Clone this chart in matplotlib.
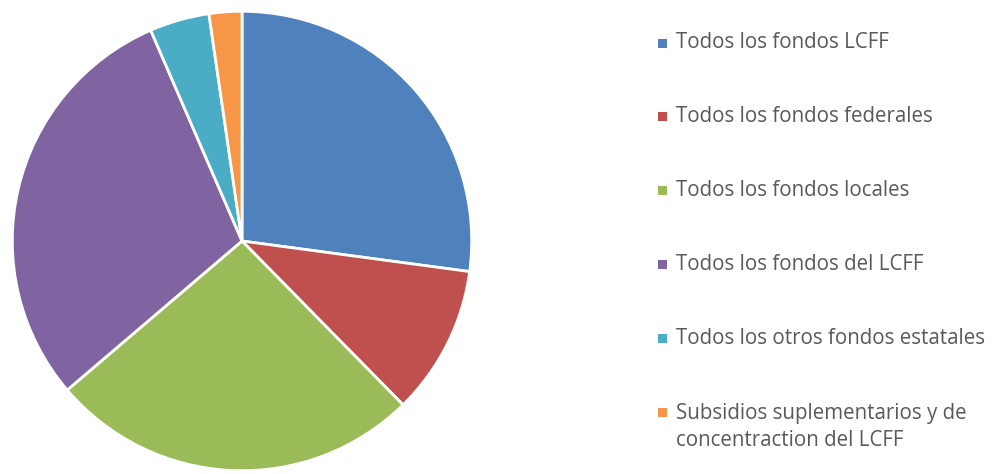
import matplotlib
matplotlib.use("Agg")
import matplotlib.pyplot as plt
from matplotlib.patches import Rectangle

labels = ["Todos los fondos LCFF", "Todos los fondos federales", "Todos los fondos locales",
          "Todos los fondos del LCFF", "Todos los otros fondos estatales",
          "Subsidios suplementarios y de\nconcentraction del LCFF"]
values = [27.1, 10.5, 26.1, 29.7, 4.2, 2.3]
colors = ["#4F81BD", "#C0504D", "#9BBB59", "#8064A2", "#4BACC6", "#F79646"]

W, H = 995, 474
fig = plt.figure(figsize=(W / 100, H / 100), dpi=100)
cx, cy, r = 242, 241, 232
ax = fig.add_axes([(cx - r) / W, (H - cy - r) / H, 2 * r / W, 2 * r / H])
ax.pie(values, colors=colors, startangle=90, counterclock=False, radius=1,
       wedgeprops=dict(edgecolor="white", linewidth=2.0))
ax.set_xlim(-1.01, 1.01)
ax.set_ylim(-1.01, 1.01)
ax.set_aspect("equal")
ax.axis("off")

y0, dy = 43, 73.8
for i, (lab, col) in enumerate(zip(labels, colors)):
    y = y0 + i * dy
    fig.patches.append(Rectangle((658 / W, (H - y - 4.5) / H), 9 / W, 9 / H,
                                 transform=fig.transFigure, facecolor=col, edgecolor="none"))
    if "\n" in lab:
        fig.text(676 / W, (H - y - 15) / H, lab, ha="left", va="center",
                 fontsize=14.8, color="#595959", family="Open Sans", linespacing=1.4)
    else:
        fig.text(676 / W, (H - y) / H, lab, ha="left", va="center",
                 fontsize=14.8, color="#595959", family="Open Sans")

fig.savefig("out.png", dpi=100)
